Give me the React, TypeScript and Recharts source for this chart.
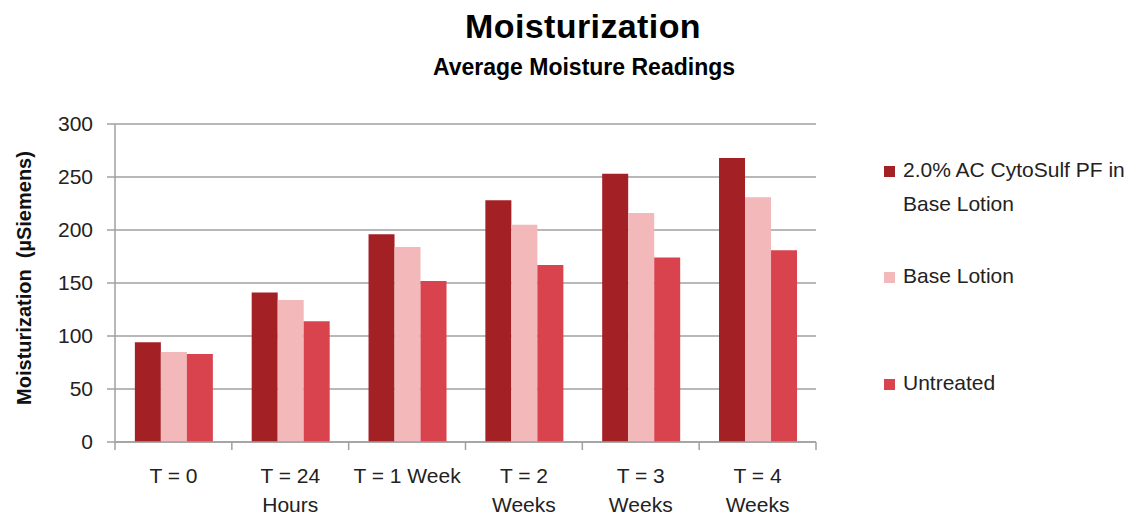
import { Bar, BarChart, CartesianGrid, Legend, XAxis, YAxis } from "recharts";

const categories = ["T = 0", "T = 24\nHours", "T = 1 Week", "T = 2\nWeeks", "T = 3\nWeeks", "T = 4\nWeeks"];
const cytoSulf = [94, 141, 196, 228, 253, 268];
const baseLotion = [85, 134, 184, 205, 216, 231];
const untreated = [83, 114, 152, 167, 174, 181];
const yTicks = [0, 50, 100, 150, 200, 250, 300];

const data = categories.map((c, i) => ({
  name: c,
  cyto: cytoSulf[i],
  base: baseLotion[i],
  untreated: untreated[i],
}));

const FONT = "'Liberation Sans', Arial, sans-serif";
const GRID = "#a0a0a0";

const CategoryTick = (props: any) => {
  const { x, y, payload, index } = props;
  const half = payload.offset ?? 700 / 12;
  const lines = String(payload.value).split("\n");
  return (
    <g>
      <line x1={x - half} x2={x - half} y1={y - 8} y2={y} stroke={GRID} strokeWidth={1.5} />
      {index === categories.length - 1 && (
        <line x1={x + half} x2={x + half} y1={y - 8} y2={y} stroke={GRID} strokeWidth={1.5} />
      )}
      <text x={x} y={y} textAnchor="middle" fill="#222" fontSize={21} fontFamily={FONT}>
        {lines.map((l, i) => (
          <tspan key={i} x={x} dy={i === 0 ? 33 : 29}>
            {l}
          </tspan>
        ))}
      </text>
    </g>
  );
};

const LegendBox = (props: any) => {
  const { payload } = props;
  const tops = [0, 106, 213];
  return (
    <div style={{ position: "relative", fontFamily: FONT, fontSize: 21, color: "#222" }}>
      {payload.map((p: any, i: number) => (
        <div key={p.value} style={{ position: "absolute", top: tops[i], left: 0, display: "flex", lineHeight: "34px" }}>
          <div style={{ width: 11, height: 11, flex: "none", background: p.color, marginTop: 13, marginRight: 8 }} />
          <div style={{ width: 232 }}>{p.value}</div>
        </div>
      ))}
    </div>
  );
};

export default function App() {
  return (
    <div style={{ position: "relative", width: 1139, height: 518, margin: "-8px 0 0 -8px", background: "#fff" }}>
      <div style={{ position: "absolute", top: 7, left: 0, width: 1166, textAlign: "center", fontFamily: FONT, fontWeight: "bold", fontSize: 34, letterSpacing: 0.4, lineHeight: "normal" }}>
        Moisturization
      </div>
      <div style={{ position: "absolute", top: 54, left: 0, width: 1168, textAlign: "center", fontFamily: FONT, fontWeight: "bold", fontSize: 23, lineHeight: "normal" }}>
        Average Moisture Readings
      </div>
      <BarChart
        width={1139}
        height={518}
        data={data}
        margin={{ top: 124, right: 323, bottom: 16, left: 0 }}
        barCategoryGap="17%"
        barGap={0}
      >
        <CartesianGrid vertical={false} stroke={GRID} strokeWidth={1.5} />
        <XAxis
          dataKey="name"
          height={60}
          interval={0}
          tickLine={false}
          axisLine={{ stroke: GRID, strokeWidth: 1.5 }}
          tick={<CategoryTick />}
        />
        <YAxis
          width={115}
          domain={[0, 300]}
          ticks={yTicks}
          interval={0}
          tickSize={8}
          tickMargin={14}
          tickLine={{ stroke: GRID, strokeWidth: 1.5 }}
          axisLine={{ stroke: GRID, strokeWidth: 1.5 }}
          tick={{ fill: "#222", fontSize: 21, fontFamily: FONT }}
          label={{
            content: () => (
              <text
                x={31}
                y={278}
                transform="rotate(-90 31 278)"
                textAnchor="middle"
                fontFamily={FONT}
                fontWeight="bold"
                fontSize={20}
                fill="#111"
                style={{ whiteSpace: "pre" }}
              >
                {"Moisturization  (µSiemens)"}
              </text>
            ),
          }}
        />
        <Legend
          layout="horizontal"
          verticalAlign="middle"
          align="center"
          content={<LegendBox />}
          wrapperStyle={{ left: 884, top: 153, width: 255, height: 260 }}
        />
        <Bar dataKey="cyto" name="2.0% AC CytoSulf PF in Base Lotion" fill="#a32025" isAnimationActive={false} />
        <Bar dataKey="base" name="Base Lotion" fill="#f2b8ba" isAnimationActive={false} />
        <Bar dataKey="untreated" name="Untreated" fill="#d9434e" isAnimationActive={false} />
      </BarChart>
    </div>
  );
}
